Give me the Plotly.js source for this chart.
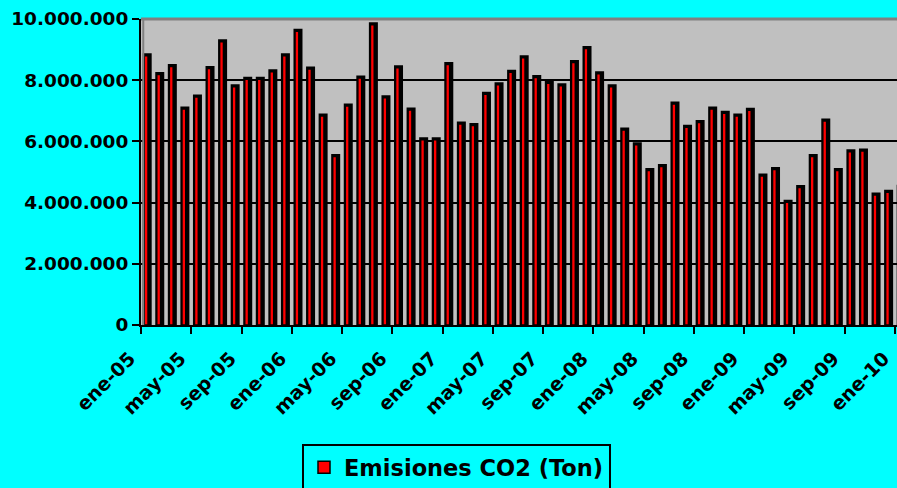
<!DOCTYPE html>
<html>
<head>
<meta charset="utf-8">
<script src="https://cdn.plot.ly/plotly-3.0.1.min.js"></script>
<style>
html,body{margin:0;padding:0;background:#00FFFF;}
#chart{width:897px;height:488px;}
</style>
</head>
<body>
<div id="chart"></div>
<script>
// ---- data ----
const months = [
  "ene-05","feb-05","mar-05","abr-05","may-05","jun-05","jul-05","ago-05","sep-05","oct-05","nov-05","dic-05",
  "ene-06","feb-06","mar-06","abr-06","may-06","jun-06","jul-06","ago-06","sep-06","oct-06","nov-06","dic-06",
  "ene-07","feb-07","mar-07","abr-07","may-07","jun-07","jul-07","ago-07","sep-07","oct-07","nov-07","dic-07",
  "ene-08","feb-08","mar-08","abr-08","may-08","jun-08","jul-08","ago-08","sep-08","oct-08","nov-08","dic-08",
  "ene-09","feb-09","mar-09","abr-09","may-09","jun-09","jul-09","ago-09","sep-09","oct-09","nov-09","dic-09",
  "ene-10"
];
const emissions = [
  8800000, 8190000, 8450000, 7060000, 7450000, 8380000, 9260000, 7790000, 8030000, 8030000, 8280000, 8800000,
  9600000, 8370000, 6830000, 5510000, 7160000, 8070000, 9810000, 7430000, 8410000, 7030000, 6050000, 6050000,
  8510000, 6570000, 6520000, 7540000, 7850000, 8260000, 8730000, 8090000, 7900000, 7820000, 8580000, 9040000,
  8210000, 7790000, 6370000, 5890000, 5050000, 5180000, 7220000, 6460000, 6620000, 7060000, 6920000, 6830000,
  7020000, 4870000, 5080000, 4010000, 4490000, 5510000, 6670000, 5050000, 5660000, 5690000, 4250000, 4340000,
  4500000
];
const seriesName = "Emisiones CO2 (Ton)";
const yTickValues = [0, 2000000, 4000000, 6000000, 8000000, 10000000];
const labelEvery = 4;

// ---- build ----
const xPos = months.map((_, i) => i);
const tickIdx = months.map((_, i) => i).filter(i => i % labelEvery === 0);
const xTickVals = tickIdx.map(i => i - 0.5);
const xTickText = tickIdx.map(i => months[i]);

const boldFont = {family: "DejaVu Sans", weight: "bold", color: "#000000"};

const shadowTrace = {
  type: "bar", x: xPos, y: emissions, name: seriesName, showlegend: false,
  width: 0.319, offset: -0.167,
  marker: {color: "#000000", line: {color: "#000000", width: 5}},
  hoverinfo: "skip"
};
const faceTrace = {
  type: "bar", x: xPos, y: emissions, name: seriesName,
  width: 0.303, offset: -0.243,
  marker: {color: "#FF0000", line: {color: "#000000", width: 1.5}}
};

const layout = {
  width: 897, height: 488,
  paper_bgcolor: "#00FFFF",
  plot_bgcolor: "#C0C0C0",
  separators: ",.",
  margin: {l: 141, r: 0, t: 19, b: 163, pad: 0, autoexpand: false},
  barmode: "overlay",
  showlegend: true,
  xaxis: {
    range: [-0.5, 59.66],
    automargin: false,
    tickmode: "array", tickvals: xTickVals, ticktext: xTickText,
    tickangle: -45,
    ticklabeloverflow: "allow",
    ticklabelshift: -11,
    ticklabelstandoff: 6,
    ticks: "outside", ticklen: 7, tickwidth: 2, tickcolor: "#000000",
    showgrid: false, zeroline: false,
    showline: true, linecolor: "#000000", linewidth: 2,
    tickfont: Object.assign({size: 19}, boldFont)
  },
  yaxis: {
    range: [0, 10000000],
    automargin: false,
    tickmode: "array", tickvals: yTickValues,
    tickformat: ",d",
    ticks: "outside", ticklen: 7, tickwidth: 2, tickcolor: "#000000",
    showgrid: true, gridcolor: "#000000", gridwidth: 2,
    zeroline: false,
    showline: true, linecolor: "#000000", linewidth: 2,
    tickfont: Object.assign({size: 18.5}, boldFont)
  },
  legend: {
    xref: "container", yref: "container",
    x: 302/897, y: 1 - 444/488, xanchor: "left", yanchor: "top",
    bgcolor: "#00FFFF", bordercolor: "#000000", borderwidth: 2,
    font: Object.assign({size: 22.5}, boldFont)
  },
  shapes: [
    {type: "line", xref: "paper", yref: "paper", x0: 0, x1: 1, y0: 1, y1: 1,
     line: {color: "#808080", width: 3}},
    {type: "line", xref: "paper", yref: "paper", x0: 0.003, x1: 0.003, y0: 0, y1: 1,
     line: {color: "#808080", width: 2}}
  ]
};

Plotly.newPlot("chart", [shadowTrace, faceTrace], layout, {displayModeBar: false, staticPlot: true});
</script>
</body>
</html>
